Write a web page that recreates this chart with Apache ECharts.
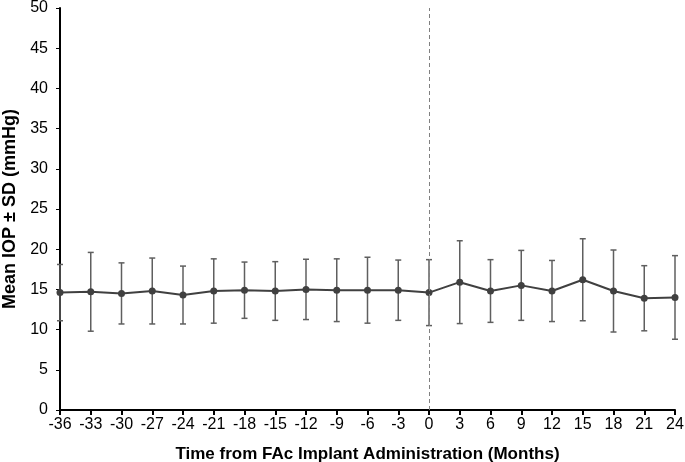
<!DOCTYPE html>
<html>
<head>
<meta charset="utf-8">
<script src="https://cdn.jsdelivr.net/npm/echarts@6/dist/echarts.min.js"></script>
<style>
  html, body { margin: 0; padding: 0; background: #fff; }
  #chart { width: 685px; height: 462px; }
</style>
</head>
<body>
<div id="chart"></div>
<script>
// months relative to FAc implant administration
const months = [-36, -33, -30, -27, -24, -21, -18, -15, -12, -9, -6, -3, 0, 3, 6, 9, 12, 15, 18, 21, 24]
const meanIop = [14.6, 14.7, 14.5, 14.8, 14.3, 14.8, 14.9, 14.8, 15.0, 14.9, 14.9, 14.9, 14.6, 15.9, 14.8, 15.5, 14.8, 16.2, 14.8, 13.9, 14.0]
const sdIop = [3.5, 4.9, 3.8, 4.1, 3.6, 4.0, 3.5, 3.65, 3.75, 3.9, 4.1, 3.75, 4.1, 5.15, 3.9, 4.35, 3.8, 5.1, 5.1, 4.05, 5.2]
const yTicks = { min: 0, max: 50, interval: 5 }
const xTicks = { min: -36, max: 24, interval: 3 }

const chart = echarts.init(document.getElementById('chart'), null, { renderer: 'canvas' })

const axisFont = { color: '#000', fontSize: 16, fontFamily: 'Liberation Sans, Arial, sans-serif' }

const lineData = months.map((m, i) => [m, meanIop[i]])
const errData = months.map((m, i) => [m, meanIop[i] - sdIop[i], meanIop[i] + sdIop[i]])

chart.setOption({
  animation: false,
  grid: { left: 60, right: 10, top: 8, bottom: 52, outerBoundsMode: 'none', containLabel: false },
  xAxis: {
    type: 'value',
    min: xTicks.min,
    max: xTicks.max,
    interval: xTicks.interval,
    name: 'Time from FAc Implant Administration (Months)',
    nameLocation: 'middle',
    nameGap: 36,
    nameTextStyle: { ...axisFont, fontWeight: 'bold', fontSize: 17 },
    axisLine: { onZero: false, lineStyle: { color: '#000', width: 2 } },
    axisTick: { show: true, length: 5, lineStyle: { color: '#000', width: 2 } },
    axisLabel: { ...axisFont, margin: 7 },
    splitLine: { show: false }
  },
  yAxis: {
    type: 'value',
    min: yTicks.min,
    max: yTicks.max,
    interval: yTicks.interval,
    name: 'Mean IOP ± SD (mmHg)',
    nameLocation: 'middle',
    nameGap: 39,
    nameTextStyle: { ...axisFont, fontWeight: 'bold', fontSize: 18 },
    axisLine: { show: true, onZero: false, lineStyle: { color: '#000', width: 2 } },
    axisTick: { show: true, length: 4, lineStyle: { color: '#000' } },
    axisLabel: { ...axisFont, margin: 12 },
    splitLine: { show: false }
  },
  series: [
    {
      type: 'custom',
      name: 'sd',
      data: errData,
      z: 2,
      renderItem: (params, api) => {
        const x = api.value(0)
        const lo = api.coord([x, api.value(1)])
        const hi = api.coord([x, api.value(2)])
        const cap = 3
        const style = { stroke: '#5f5f5f', lineWidth: 1.5 }
        return {
          type: 'group',
          children: [
            { type: 'line', shape: { x1: lo[0], y1: lo[1], x2: hi[0], y2: hi[1] }, style },
            { type: 'line', shape: { x1: hi[0] - cap, y1: hi[1], x2: hi[0] + cap, y2: hi[1] }, style },
            { type: 'line', shape: { x1: lo[0] - cap, y1: lo[1], x2: lo[0] + cap, y2: lo[1] }, style }
          ]
        }
      }
    },
    {
      type: 'line',
      name: 'mean',
      data: lineData,
      z: 3,
      symbol: 'circle',
      symbolSize: 7,
      itemStyle: { color: '#404040' },
      lineStyle: { color: '#404040', width: 2 },
      markLine: {
        silent: true,
        symbol: 'none',
        label: { show: false },
        lineStyle: { color: '#808080', type: [4, 3], width: 1 },
        data: [{ xAxis: 0 }]
      }
    }
  ]
})
</script>
</body>
</html>
